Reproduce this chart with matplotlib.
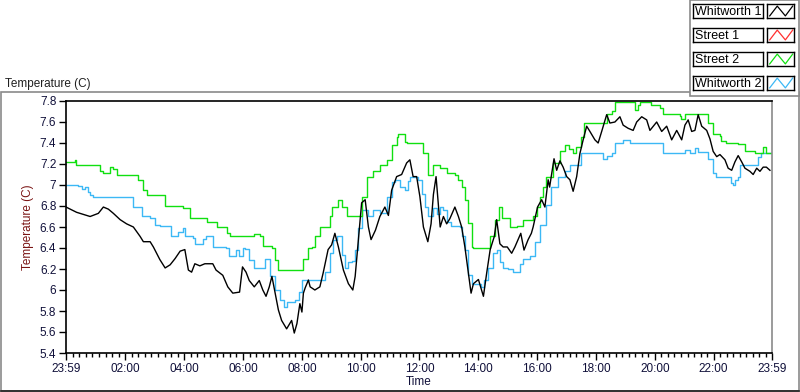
import numpy as np
import matplotlib
matplotlib.use("Agg")
import matplotlib.pyplot as plt
from matplotlib.ticker import FuncFormatter
from matplotlib.patches import Rectangle
from matplotlib.lines import Line2D

plt.rcParams['font.family'] = ['Liberation Sans', 'DejaVu Sans']

# Series: hours since 23:59 and temperature (C)
street2_h = [0.0, 0.3, 0.35, 0.87, 1.16, 1.27, 1.50, 1.61, 1.72, 2.35, 2.46, 2.63, 2.74, 3.25, 3.37, 3.76,
             3.99, 4.21, 4.67, 4.78, 5.12, 5.35, 5.46, 5.58, 6.25, 6.38, 6.59, 6.71, 6.99, 7.10, 7.22, 7.95,
             8.07, 8.24, 8.35, 8.46, 8.63, 8.80, 8.97, 9.03, 9.26, 9.37, 9.54, 9.94, 10.05, 10.22, 10.45,
             10.62, 10.67, 10.90, 11.07, 11.24, 11.30, 11.47, 11.52, 11.58, 12.09, 12.15, 12.32, 12.49,
             12.72, 12.94, 13.22, 13.34, 13.45, 13.56, 13.68, 13.79, 13.85, 14.30, 14.41, 14.58, 14.73,
             14.81, 15.00, 15.09, 15.32, 15.54, 15.88, 16.00, 16.11, 16.22, 16.33, 16.56, 16.79, 16.96,
             17.11, 17.23, 17.34, 17.51, 17.62, 18.25, 18.38, 18.55, 18.66, 19.29, 19.35, 19.46, 19.52,
             19.90, 20.18, 20.29, 20.75, 20.86, 20.92, 21.03, 21.65, 21.82, 21.99, 22.22, 22.28, 22.45,
             22.85, 23.08, 23.42, 23.70, 23.81, 24.0]
street2_t = [7.22, 7.24, 7.19, 7.19, 7.13, 7.11, 7.17, 7.15, 7.10, 7.10, 7.05, 6.95, 6.90, 6.90, 6.80, 6.80,
             6.78, 6.69, 6.69, 6.65, 6.60, 6.60, 6.54, 6.51, 6.51, 6.53, 6.51, 6.42, 6.40, 6.29, 6.19, 6.19,
             6.30, 6.40, 6.41, 6.51, 6.60, 6.60, 6.70, 6.79, 6.86, 6.79, 6.70, 6.70, 6.89, 7.08, 7.13,
             7.13, 7.19, 7.24, 7.38, 7.46, 7.49, 7.49, 7.41, 7.40, 7.40, 7.30, 7.095, 7.19,
             7.16, 7.11, 7.10, 7.05, 6.98, 6.86, 6.64, 6.41, 6.40, 6.40, 6.51, 6.67, 6.79,
             6.69, 6.69, 6.60, 6.61, 6.67, 6.70, 6.79, 6.89, 6.98, 7.08, 7.21, 7.32, 7.38,
             7.34, 7.30, 7.36, 7.46, 7.59, 7.59, 7.68, 7.70, 7.79, 7.79, 7.71, 7.76, 7.79,
             7.76, 7.73, 7.68, 7.68, 7.66, 7.63, 7.68, 7.68, 7.59, 7.49, 7.47, 7.42, 7.40,
             7.39, 7.32, 7.30, 7.36, 7.30, 7.30]

whit2_h = [0.0, 0.40, 0.55, 0.65, 0.76, 0.82, 0.93, 2.17, 2.29, 2.57, 2.85, 3.02, 3.19, 3.47, 3.58, 3.81,
           3.99, 4.05, 4.33, 4.40, 4.67, 4.76, 4.99, 5.44, 5.55, 5.78, 5.89, 6.00, 6.10, 6.21, 6.38, 6.67,
           6.78, 6.90, 6.95, 7.10, 7.29, 7.40, 7.52, 7.80, 7.91, 8.02, 8.69, 8.80, 8.97, 9.08, 9.20, 9.37,
           9.49, 9.60, 9.71, 9.83, 9.94, 10.05, 10.28, 10.45, 10.67, 10.90, 11.07, 11.18, 11.35, 11.52,
           11.63, 11.69, 11.86, 11.97, 12.09, 12.20, 12.32, 12.49, 12.60, 12.72, 12.83, 12.94, 13.10,
           13.39, 13.45, 13.56, 13.68, 13.79, 14.10, 14.22, 14.33, 14.52, 14.64, 14.75, 14.86, 15.03,
           15.20, 15.43, 15.54, 15.77, 15.94, 16.11, 16.33, 16.50, 16.73, 16.96, 17.13, 17.41, 17.51,
           18.19, 18.25, 18.38, 18.55, 18.66, 18.95, 19.18, 20.20, 20.31, 20.88, 21.05, 21.22, 21.39,
           21.50, 21.82, 21.99, 22.10, 22.51, 22.60, 22.66, 22.75, 22.85, 22.91, 23.36, 23.53, 23.64, 24.0]
whit2_t = [7.00, 6.99, 6.96, 6.98, 6.93, 6.905, 6.89, 6.89, 6.79, 6.70, 6.69, 6.62, 6.61, 6.61, 6.51, 6.55,
           6.59, 6.51, 6.50, 6.44, 6.49, 6.51, 6.41, 6.40, 6.32, 6.38, 6.32, 6.40, 6.39, 6.29, 6.21, 6.21,
           6.30, 6.30, 6.13, 6.00, 5.905, 5.84, 5.89, 5.90, 5.98, 6.095, 6.10, 6.17, 6.35, 6.48, 6.51, 6.33,
           6.21, 6.27, 6.28, 6.385, 6.59, 6.76, 6.70, 6.76, 6.73, 6.89, 7.03, 7.05, 6.98, 6.95,
           7.04, 7.08, 7.08, 7.05, 6.91, 6.79, 6.70, 6.78, 6.72, 6.79, 6.76, 6.65, 6.61,
           6.60, 6.51, 6.38, 6.14, 6.06, 6.03, 6.10, 6.21, 6.35, 6.38, 6.27, 6.21, 6.20,
           6.17, 6.25, 6.30, 6.32, 6.46, 6.62, 6.81, 6.98, 7.08, 7.13, 7.19, 7.19, 7.30,
           7.30, 7.25, 7.28, 7.30, 7.40, 7.43, 7.40, 7.40, 7.30, 7.30, 7.33, 7.30, 7.35,
           7.31, 7.25, 7.11, 7.08, 7.08, 7.02, 7.00, 7.05, 7.08, 7.19, 7.19, 7.27, 7.30, 7.30]

whit1_h = [0.0, 0.36, 0.59, 0.82, 1.10, 1.27, 1.44, 1.61, 1.84, 2.06, 2.29, 2.52, 2.63, 2.86, 2.97, 3.08,
           3.19, 3.37, 3.54, 3.71, 3.88, 4.04, 4.10, 4.16, 4.27, 4.38, 4.55, 4.72, 4.99, 5.10, 5.33, 5.50,
           5.67, 5.90, 6.00, 6.12, 6.23, 6.40, 6.57, 6.69, 6.80, 6.91, 7.00, 7.11, 7.22, 7.33, 7.50, 7.67,
           7.76, 7.85, 7.95, 8.02, 8.07, 8.13, 8.24, 8.30, 8.46, 8.63, 8.74, 8.91, 9.03, 9.14, 9.26, 9.43,
           9.60, 9.75, 9.83, 9.94, 10.05, 10.17, 10.28, 10.37, 10.52, 10.67, 10.84, 10.96, 11.07, 11.24,
           11.41, 11.58, 11.69, 11.80, 11.92, 12.03, 12.15, 12.30, 12.41, 12.49, 12.58, 12.66, 12.72,
           12.83, 12.94, 13.05, 13.22, 13.34, 13.45, 13.56, 13.68, 13.77, 13.85, 14.02, 14.19, 14.30,
           14.42, 14.56, 14.64, 14.75, 14.86, 15.00, 15.15, 15.26, 15.46, 15.57, 15.71, 15.82, 15.88,
           16.03, 16.17, 16.28, 16.39, 16.44, 16.59, 16.68, 16.79, 16.90, 17.02, 17.13, 17.24, 17.36,
           17.47, 17.58, 17.70, 17.81, 17.98, 18.09, 18.21, 18.38, 18.49, 18.66, 18.83, 18.94, 19.11,
           19.28, 19.40, 19.57, 19.74, 19.85, 20.08, 20.25, 20.42, 20.59, 20.76, 20.93, 21.04, 21.15,
           21.27, 21.38, 21.49, 21.61, 21.78, 21.89, 22.00, 22.12, 22.23, 22.40, 22.51, 22.63, 22.74,
           22.85, 22.97, 23.08, 23.25, 23.36, 23.48, 23.59, 23.70, 23.81, 23.93]
whit1_t = [6.79, 6.74, 6.72, 6.70, 6.73, 6.79, 6.77, 6.73, 6.67, 6.63, 6.60, 6.51, 6.46, 6.46, 6.41, 6.35,
           6.29, 6.21, 6.24, 6.30, 6.37, 6.385, 6.29, 6.19, 6.17, 6.25, 6.23, 6.25, 6.25, 6.19, 6.14, 6.03,
           5.97, 5.98, 6.22, 6.17, 6.09, 6.03, 6.09, 6.00, 5.94, 6.03, 6.13, 5.97, 5.81, 5.71, 5.63, 5.71,
           5.59, 5.68, 5.87, 5.79, 5.97, 6.02, 6.095, 6.03, 6.00, 6.03, 6.16, 6.385, 6.43, 6.54, 6.41, 6.19,
           6.06, 6.00, 6.13, 6.48, 6.83, 6.86, 6.60, 6.48, 6.57, 6.70, 6.79, 6.71, 6.95, 7.08,
           7.10, 7.21, 7.24, 7.08, 7.08, 6.89, 6.60, 6.46, 6.63, 6.91, 7.08, 6.81, 6.60,
           6.70, 6.63, 6.68, 6.79, 6.70, 6.60, 6.41, 6.16, 5.97, 6.06, 6.10, 5.94, 6.16,
           6.385, 6.51, 6.67, 6.44, 6.41, 6.41, 6.35, 6.41, 6.54, 6.38, 6.48, 6.54, 6.60,
           6.79, 6.86, 6.79, 7.05, 6.98, 7.25, 7.14, 7.23, 7.17, 7.08, 7.05, 6.94, 7.08,
           7.30, 7.43, 7.56, 7.51, 7.43, 7.40, 7.51, 7.67, 7.59, 7.60, 7.65, 7.57, 7.54,
           7.52, 7.60, 7.65, 7.62, 7.52, 7.60, 7.51, 7.56, 7.43, 7.52, 7.43, 7.57, 7.62,
           7.51, 7.52, 7.67, 7.56, 7.52, 7.44, 7.32, 7.27, 7.29, 7.24, 7.16, 7.14, 7.22,
           7.28, 7.22, 7.16, 7.13, 7.10, 7.16, 7.13, 7.17, 7.17, 7.14]

street1_h = []   # no data logged
street1_t = []

series_names = ["Whitworth 1", "Street 1", "Street 2", "Whitworth 2"]
series_colors = ["#000000", "#ff3030", "#10e010", "#3cb8f5"]

time_labels = ["23:59", "02:00", "04:00", "06:00", "08:00", "10:00", "12:00",
               "14:00", "16:00", "18:00", "20:00", "22:00", "23:59"]
y_ticks = [5.4, 5.6, 5.8, 6.0, 6.2, 6.4, 6.6, 6.8, 7.0, 7.2, 7.4, 7.6, 7.8]

W, H = 800, 392
fig = plt.figure(figsize=(W / 100, H / 100), dpi=100)


def px_axes(x, y, w, h, **kw):
    return fig.add_axes([x / W, 1 - (y + h) / H, w / W, h / H], **kw)


# outer frame of the graph
frame = Rectangle((1 / W, 1 - 391 / H), 798 / W, 299 / H, transform=fig.transFigure,
                  fill=False, edgecolor="#8a8a8a", lw=1.2, zorder=0)
fig.add_artist(frame)
fig.add_artist(Line2D([1 / W, 799 / W], [1 - 391 / H] * 2, transform=fig.transFigure,
                      color="#202020", lw=1.2))

ax = px_axes(66, 101, 706, 252)
ax.plot(whit2_h, whit2_t, color=series_colors[3], lw=1.0, drawstyle="steps-post")
ax.plot(street2_h, street2_t, color=series_colors[2], lw=1.0, drawstyle="steps-post")
ax.plot(street1_h, street1_t, color=series_colors[1], lw=1.0)
ax.plot(whit1_h, whit1_t, color=series_colors[0], lw=1.0)

ax.set_xlim(0, 24)
ax.set_ylim(5.4, 7.8)


def label_pos(i, lab):
    if i == 0:
        return 0.0
    if i == len(time_labels) - 1:
        return 24.0
    hh, mm = lab.split(":")
    return int(hh) + (int(mm) + 1) / 60


xt = [label_pos(i, l) for i, l in enumerate(time_labels)]
ax.set_xticks(xt)
ax.set_xticklabels(time_labels)
minor = []
for a, b in zip(xt[:-1], xt[1:]):
    minor.extend(np.linspace(a, b, 10)[1:-1])
ax.set_xticks(minor, minor=True)
ax.set_yticks(y_ticks)
ax.yaxis.set_major_formatter(FuncFormatter(lambda v, p: f"{v:g}"))

tick_col = "#10103a"
ax.tick_params(axis="both", which="major", length=5, width=1, color="black",
               labelsize=8.5, labelcolor=tick_col, pad=2)
ax.tick_params(axis="x", which="minor", length=3, width=1, color="black")
for s in ["left", "bottom", "top"]:
    ax.spines[s].set_color("black")
    ax.spines[s].set_linewidth(1.2)
ax.spines["right"].set_color("#8a8a8a")
ax.spines["right"].set_linewidth(1.2)

ax.set_xlabel("Time", fontsize=8.5, color="#10103a", labelpad=1)
ax.set_ylabel("Temperature (C)", fontsize=8.5, color="#7a1414", labelpad=4)
fig.text(5 / W, 1 - 87 / H, "Temperature (C)", fontsize=8.5, color="#202020", va="baseline")

# legend panel
lg = Rectangle((690 / W, 1 - 96 / H), 109 / W, 96 / H, transform=fig.transFigure,
               facecolor="white", edgecolor="#8a8a8a", lw=1.2, zorder=1)
fig.add_artist(lg)
for i, (name, col) in enumerate(zip(series_names, series_colors)):
    y0 = 4 + 24 * i
    tax = px_axes(693, y0, 70, 14, zorder=3)
    tax.set_xticks([])
    tax.set_yticks([])
    for sp in tax.spines.values():
        sp.set_linewidth(1.0)
    tax.text(0.03, 0.45, name, transform=tax.transAxes, fontsize=9, va="center", ha="left")
    sax = px_axes(767, y0, 27, 14, zorder=3)
    sax.set_xticks([])
    sax.set_yticks([])
    for sp in sax.spines.values():
        sp.set_linewidth(1.0)
    sax.plot([0.1, 0.38, 0.68, 0.95], [0.15, 0.85, 0.15, 0.85], color=col, lw=0.9)
    sax.set_xlim(0, 1)
    sax.set_ylim(0, 1)

fig.savefig("out.png", dpi=100)
